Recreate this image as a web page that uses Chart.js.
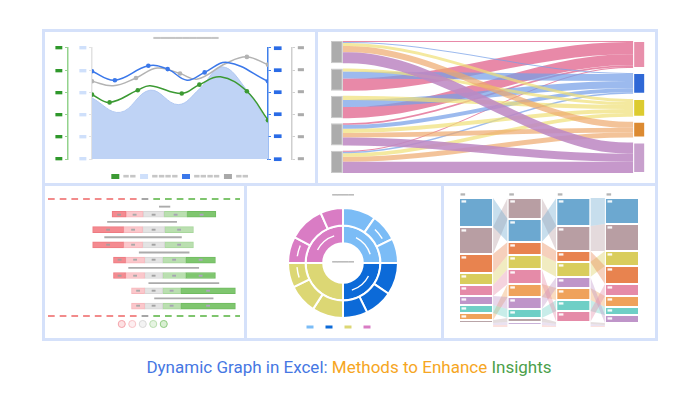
<!DOCTYPE html>
<html lang="en">
<head>
<meta charset="utf-8">
<title>Dynamic Graph in Excel</title>
<script src="https://cdn.jsdelivr.net/npm/chart.js@4.4.1/dist/chart.umd.min.js"></script>
<style>
  html, body { margin: 0; padding: 0; background: #ffffff; }
  #page { position: relative; width: 698px; height: 400px; overflow: hidden; }
  #frame { position: absolute; left: 42px; top: 29px; width: 616px; height: 312px; background: #d5e1fa; }
  .panel { position: absolute; background: #ffffff; }
  .panel canvas { display: block; }
  #caption { position: absolute; left: 0; top: 357px; width: 698px; text-align: center;
             font-family: Roboto, 'Noto Sans', sans-serif; font-size: 17px; line-height: 20px; }
</style>
</head>
<body>
<div id="page">
  <div id="frame"></div>
  <div class="panel" style="left:45px;top:32px;width:270px;height:151px"><canvas id="lineChart" width="270" height="151"></canvas></div>
  <div class="panel" style="left:318px;top:32px;width:337px;height:151px"><canvas id="sankeyChart" width="337" height="151"></canvas></div>
  <div class="panel" style="left:45px;top:186px;width:199px;height:152px"><canvas id="ganttChart" width="199" height="152"></canvas></div>
  <div class="panel" style="left:247px;top:186px;width:194px;height:152px"><canvas id="sunChart" width="194" height="152"></canvas></div>
  <div class="panel" style="left:444px;top:186px;width:211px;height:152px"><canvas id="flowChart" width="211" height="152"></canvas></div>
  <div id="caption"><span style="color:#4677e3">Dynamic Graph in Excel:</span> <span style="color:#f6a623">Methods to Enhance</span> <span style="color:#4c9f4a">Insights</span></div>
</div>
<script>
Chart.defaults.font.family = "'DejaVu Sans', sans-serif";
Chart.defaults.responsive = false;
Chart.defaults.animation = false;
Chart.defaults.plugins.tooltip.enabled = false;
Chart.defaults.plugins.legend.display = false;

// 占位文字（原图里模糊的小字）
const BAR = '\u25AC';
const LINE = '\u2501';

// ===== 左上：多轴曲线 + 面积 =====
const areaX = [0, 16, 33, 49, 61, 74, 88, 100];
const areaY = [55, 42, 62, 49, 63, 83, 62, 32];
const blueX = [0, 13, 32, 43, 54, 64, 77, 100];
const blueY = [79, 71, 84, 81, 71, 78, 87, 70];
const blueMarks = [1, 1, 1, 1, 0, 1, 0, 1];
const grayX = [0, 12, 25, 37, 50, 60, 76, 88, 100];
const grayY = [70, 66, 73, 82, 77, 72, 86, 92, 85];
const grayMarks = [1, 0, 1, 0, 1, 0, 0, 1, 1];
const greenX = [0, 10, 26, 33, 51, 61, 73, 88, 100];
const greenY = [58, 51, 62, 66, 59, 67, 74, 61, 35];
const greenMarks = [1, 1, 1, 0, 1, 1, 0, 1, 1];
const lineLegendColors = ['#3c9a33', '#cfe0fb', '#3b78ea', '#a9a9a9'];
const lineLegendText = [BAR.repeat(2), BAR.repeat(4), BAR.repeat(4), BAR.repeat(2)];

function toPoints(xs, ys) {
  return xs.map((x, i) => ({ x, y: ys[i] }));
}
function clearTicks(scale) {
  scale.ticks = [];
}

function curve(label, xs, ys, marks, color, order) {
  return {
    label, order, yAxisID: 'yG',
    data: toPoints(xs, ys),
    borderColor: color, backgroundColor: color, borderWidth: 1.5, tension: 0.4,
    pointRadius: marks.map(m => (m ? 2.3 : 0)), pointBorderWidth: 0, fill: false
  };
}

function sideAxis(position, weight, lineColor, labelColor, width, size) {
  return {
    position, weight, min: 0, max: 100,
    ticks: { stepSize: 20, padding: 2, color: labelColor, font: { size }, callback: () => BAR },
    grid: { drawOnChartArea: false, tickLength: 3, color: lineColor },
    border: { color: lineColor, width: 1.5 },
    afterFit: s => { s.width = width; }
  };
}

new Chart(document.getElementById('lineChart'), {
  type: 'line',
  data: {
    datasets: [
      curve('Green', greenX, greenY, greenMarks, '#3c9a33', 0),
      curve('Blue', blueX, blueY, blueMarks, '#3b78ea', 1),
      curve('Gray', grayX, grayY, grayMarks, '#b3b3b3', 2),
      {
        label: 'Area', order: 3, yAxisID: 'yG',
        data: toPoints(areaX, areaY),
        fill: 'origin', tension: 0.4, pointRadius: 0,
        borderWidth: 1, borderColor: '#b2c9f2', backgroundColor: '#bfd3f5'
      }
    ]
  },
  options: {
    scales: {
      x: {
        type: 'linear', min: 0, max: 100,
        ticks: { stepSize: 20, autoSkip: false, maxRotation: 0, padding: 1, color: '#cdcdcd', font: { size: 7 }, callback: () => BAR },
        grid: { display: false }, border: { display: false },
        afterFit: s => { s.height = 10; }
      },
      yG: sideAxis('left', 2, '#93d38d', '#2f982b', 23, 9),
      yL: sideAxis('left', 1, '#e2e2e2', '#cfe0fb', 24, 9),
      yB: sideAxis('right', 1, '#3f7fea', '#2a6be6', 24, 10),
      yR: sideAxis('right', 2, '#cfcfcf', '#ababab', 23, 8)
    },
    plugins: {
      title: {
        display: true, text: '\u2002\u2002' + LINE.repeat(9), color: '#c5c5c5',
        font: { size: 12 }, padding: { top: 0, bottom: 1.6 }
      },
      legend: {
        display: true, position: 'bottom', maxHeight: 14,
        labels: {
          boxWidth: 8, boxHeight: 5, padding: 4, color: '#c6c6c6', font: { size: 7 },
          generateLabels: () => lineLegendColors.map((c, i) => ({
            text: lineLegendText[i], fillStyle: c, strokeStyle: c, lineWidth: 0, hidden: false, fontColor: '#c6c6c6'
          }))
        }
      }
    }
  }
});

// ===== 右上：桑基图 =====
const sankeySources = ['S1', 'S2', 'S3', 'S4', 'S5'];
const sankeyTargets = ['Pink', 'Blue', 'Yellow', 'Orange', 'Purple'];
const sankeyTargetColors = ['#e88fab', '#2f68d6', '#dccb2f', '#dc8a31', '#c8a0cd'];
const sankeyFlowColors = ['rgba(226,108,146,0.8)', 'rgba(118,160,232,0.72)', 'rgba(240,224,118,0.7)',
  'rgba(238,170,110,0.7)', 'rgba(190,138,196,0.88)'];
// [来源, 目标, 数值]
const sankeyFlows = [
  [0, 0, 1], [0, 1, 1], [0, 2, 3], [0, 3, 6], [0, 4, 11],
  [1, 2, 3], [1, 1, 7], [1, 0, 12],
  [2, 2, 4], [2, 1, 7], [2, 0, 11],
  [3, 0, 1.5], [3, 1, 4], [3, 2, 4], [3, 3, 4.5], [3, 4, 8],
  [4, 0, 1], [4, 1, 1.5], [4, 2, 3.5], [4, 3, 5], [4, 4, 11]
];
const sankeyGap = 5;

function nodeTotals(names, side) {
  return names.map((_, i) => sankeyFlows.filter(f => f[side] === i).reduce((a, f) => a + f[2], 0));
}
function stackNodes(totals) {
  let pos = 0;
  return totals.map(t => { const s = pos; pos += t + sankeyGap; return s; });
}
const srcTotals = nodeTotals(sankeySources, 0);
const tgtTotals = nodeTotals(sankeyTargets, 1);
const srcStart = stackNodes(srcTotals);
const tgtStart = stackNodes(tgtTotals);

const sankeySets = [
  {
    type: 'bar', label: 'Sources', order: 0,
    data: sankeySources.map((_, i) => ({ x: -2, y: [srcStart[i], srcStart[i] + srcTotals[i]] })),
    backgroundColor: '#acacac', borderColor: '#c9c9c9', borderWidth: 1, borderSkipped: false,
    grouped: false, maxBarThickness: 12
  },
  {
    type: 'bar', label: 'Targets', order: 0,
    data: sankeyTargets.map((_, i) => ({ x: 102, y: [tgtStart[i], tgtStart[i] + tgtTotals[i]] })),
    backgroundColor: sankeyTargetColors, borderColor: 'rgba(255,255,255,0.5)', borderWidth: 1, borderSkipped: false,
    grouped: false, maxBarThickness: 12
  }
];
const srcCursor = srcStart.slice();
const tgtCursor = tgtStart.slice();
const ribbonEdge = (a, b) => [{ x: 0, y: a }, { x: 2, y: a }, { x: 98, y: b }, { x: 100, y: b }];
sankeyFlows.forEach(([s, t, v]) => {
  const a = srcCursor[s], b = tgtCursor[t];
  srcCursor[s] += v;
  tgtCursor[t] += v;
  const base = {
    type: 'line', order: t === 4 ? 1 : 2, borderColor: 'rgba(0,0,0,0)', borderWidth: 0,
    pointRadius: 0, pointHitRadius: 0, cubicInterpolationMode: 'monotone'
  };
  sankeySets.push(Object.assign({}, base, { data: ribbonEdge(a, b), fill: false }));
  sankeySets.push(Object.assign({}, base, { data: ribbonEdge(a + v, b + v), fill: '-1', backgroundColor: sankeyFlowColors[t] }));
});

new Chart(document.getElementById('sankeyChart'), {
  type: 'bar',
  data: { datasets: sankeySets },
  options: {
    layout: { padding: { left: 13, right: 10, top: 9, bottom: 10 } },
    scales: {
      x: { type: 'linear', min: -4, max: 104, offset: false, display: false, afterBuildTicks: clearTicks },
      y: { type: 'linear', min: 0, max: 130, reverse: true, display: false, afterBuildTicks: clearTicks }
    }
  }
});

// ===== 左下：发散条形图 =====
const ganttRed = [7.3, 16.1, 16.1, 6.3, 6.3, 0, 0];
const ganttPink = [8.9, 9.9, 9.9, 9.9, 9.9, 6.8, 6.8];
const ganttNeutral = [10.9, 11.5, 11.5, 9.4, 9.4, 9.4, 9.4];
const ganttLightGreen = [12, 15, 15, 12, 12, 9.4, 9.4];
const ganttGreen = [15, 0, 0, 15.5, 15.5, 28.5, 28.5];
const ganttRanges = [[3, 8.5], [-24, 12], [-25.5, 14.5], [-7.5, 18.5], [-13, 23.5], [-2.5, 34], [0.5, 31]];
const ganttSplit = [-8.6, -2.9];
const ganttDashColors = ['#f28b8b', '#a6a6a6', '#7fc56e'];
const ganttLegendFill = ['#fde1e3', '#fdeef0', '#f3f3f3', '#e6f4e2', '#d9efd3'];
const ganttLegendRing = ['#f4a3aa', '#f8c3c7', '#d9d9d9', '#b9ddaf', '#8fcb80'];

const ganttParts = [
  { label: 'Strongly disagree', values: ganttRed, fill: '#f48a90', edge: '#ee7a81', mark: '#a99c9d' },
  { label: 'Disagree', values: ganttPink, fill: '#fbc7cb', edge: '#f6b6bb', mark: '#a9a9a9' },
  { label: 'Neutral', values: ganttNeutral, fill: '#e3e3e3', edge: '#d6d6d6', mark: '#a3a3a3' },
  { label: 'Agree', values: ganttLightGreen, fill: '#badfb0', edge: '#a8d79c', mark: '#a7a3b3' },
  { label: 'Strongly agree', values: ganttGreen, fill: '#7fc66f', edge: '#70bb60', mark: '#b2a0c4' }
];
const ganttCursor = ganttRed.map((r, i) => -(ganttNeutral[i] / 2 + ganttPink[i] + r));
const ganttSets = ganttParts.map(p => {
  const data = [];
  p.values.forEach((v, i) => {
    if (v > 0) data.push({ y: 2 * i + 2, x: [ganttCursor[i], ganttCursor[i] + v] });
    ganttCursor[i] += v;
  });
  return {
    label: p.label, data, backgroundColor: p.fill, borderColor: p.edge, borderWidth: 1, borderSkipped: false,
    grouped: false, barPercentage: 1, categoryPercentage: 1, maxBarThickness: 6, markColor: p.mark
  };
});
ganttSets.push({
  label: 'Range', data: ganttRanges.map((r, i) => ({ y: 2 * i + 1, x: r })),
  backgroundColor: '#ababab', borderWidth: 0, grouped: false,
  barPercentage: 1, categoryPercentage: 1, maxBarThickness: 1.2
});

const ganttDecor = {
  id: 'ganttDecor',
  afterDatasetsDraw(chart) {
    const { ctx, chartArea: a, scales: { x } } = chart;
    const cut1 = x.getPixelForValue(ganttSplit[0]);
    const cut2 = x.getPixelForValue(ganttSplit[1]);
    ctx.save();
    // 上下两条虚线
    ctx.lineWidth = 2;
    [a.top, a.bottom].forEach(y => {
      for (let px = a.left; px < a.right; px += 11.7) {
        ctx.strokeStyle = px < cut1 ? ganttDashColors[0] : px < cut2 ? ganttDashColors[1] : ganttDashColors[2];
        ctx.beginPath();
        ctx.moveTo(px, y);
        ctx.lineTo(Math.min(px + 6.7, a.right), y);
        ctx.stroke();
      }
    });
    // 段内小标签
    ctx.font = "5px 'DejaVu Sans'";
    ctx.textAlign = 'center';
    ctx.textBaseline = 'middle';
    chart.data.datasets.forEach((ds, i) => {
      if (!ds.markColor) return;
      ctx.fillStyle = ds.markColor;
      chart.getDatasetMeta(i).data.forEach(bar => ctx.fillText(BAR, (bar.x + bar.base) / 2, bar.y));
    });
    ctx.restore();
  }
};

new Chart(document.getElementById('ganttChart'), {
  type: 'bar',
  data: { datasets: ganttSets },
  plugins: [ganttDecor],
  options: {
    indexAxis: 'y',
    layout: { padding: { left: 3, right: 4, top: 13, bottom: 1.5 } },
    scales: {
      x: {
        type: 'linear', min: -55, max: 45,
        ticks: { display: false }, grid: { display: false }, border: { display: false },
        afterFit: s => { s.height = 2.5; }
      },
      y: { type: 'linear', min: 0, max: 15.3, reverse: true, display: false, afterBuildTicks: clearTicks }
    },
    plugins: {
      legend: {
        display: true, position: 'bottom',
        labels: {
          usePointStyle: true, boxHeight: 5, padding: 3, font: { size: 5 },
          generateLabels: () => ganttLegendRing.map((c, i) => ({
            text: '', fillStyle: ganttLegendFill[i], strokeStyle: c, lineWidth: 1, pointStyle: 'circle', hidden: false
          }))
        }
      }
    }
  }
});

// ===== 下中：旭日图 =====
const sunColors = ['#7bbcf6', '#0c6ad8', '#dcd774', '#d97cc4'];
const sunInner = [90, 90, 90, 90];
const sunOuter = [35, 29, 26, 34, 30, 26, 33, 31, 26, 28, 38, 24];
const sunOuterGroup = [0, 0, 0, 1, 1, 1, 2, 2, 2, 3, 3, 3];
const sunMarksInner = [1, 1, 0, 1];
const sunMarksOuter = [0, 1, 0, 0, 0, 0, 0, 0, 1, 1, 0, 0];

const sunDecor = {
  id: 'sunDecor',
  afterDatasetsDraw(chart) {
    const { ctx, chartArea: a } = chart;
    ctx.save();
    ctx.strokeStyle = '#ffffff';
    ctx.lineWidth = 1.4;
    [sunMarksOuter, sunMarksInner].forEach((marks, d) => {
      chart.getDatasetMeta(d).data.forEach((arc, i) => {
        if (!marks[i]) return;
        const r = (arc.innerRadius + arc.outerRadius) / 2;
        const span = arc.endAngle - arc.startAngle;
        ctx.beginPath();
        ctx.arc(arc.x, arc.y, r, arc.startAngle + span * 0.3, arc.endAngle - span * 0.2);
        ctx.stroke();
      });
    });
    ctx.fillStyle = '#b9b9b9';
    ctx.font = "9px 'DejaVu Sans'";
    ctx.textAlign = 'center';
    ctx.textBaseline = 'middle';
    ctx.fillText(LINE.repeat(4), (a.left + a.right) / 2, (a.top + a.bottom) / 2);
    ctx.restore();
  }
};

new Chart(document.getElementById('sunChart'), {
  type: 'doughnut',
  data: {
    datasets: [
      { data: sunOuter, backgroundColor: sunOuterGroup.map(g => sunColors[g]), borderColor: '#ffffff', borderWidth: 2 },
      { data: sunInner, backgroundColor: sunColors, borderColor: '#ffffff', borderWidth: 2 }
    ]
  },
  plugins: [sunDecor],
  options: {
    radius: 55,
    cutout: '36%',
    layout: { padding: { right: 2 } },
    plugins: {
      title: {
        display: true, text: LINE.repeat(4), color: '#b9b9b9', font: { size: 9 },
        padding: { top: 4.6, bottom: 3.6 }
      },
      legend: {
        display: true, position: 'bottom', maxHeight: 17,
        labels: {
          boxWidth: 7, boxHeight: 3, padding: 3, font: { size: 6 },
          generateLabels: () => sunColors.map(c => ({ text: '\u2003', fillStyle: c, strokeStyle: c, lineWidth: 0, hidden: false }))
        }
      }
    }
  }
});

// ===== 右下：冲积图 =====
const flowColors = ['#6ca8d0', '#b89ea3', '#e8834f', '#d9cd5c', '#e58ba8', '#bf95c9', '#6fcfc6', '#efa25b',
  '#b9a5a8', '#c9b2d9', '#f4b1a8'];
const flowTints = ['rgba(108,168,208,0.38)', 'rgba(184,158,163,0.38)', 'rgba(232,131,79,0.38)', 'rgba(217,205,92,0.38)',
  'rgba(229,139,168,0.38)', 'rgba(191,149,201,0.38)', 'rgba(111,207,198,0.38)', 'rgba(239,162,91,0.38)',
  'rgba(185,165,168,0.38)', 'rgba(201,178,217,0.38)', 'rgba(244,177,168,0.38)'];
// 每个类别在 4 列中的数值
const flowValues = [
  [29, 23, 28, 26],
  [27, 21, 25, 27],
  [19, 13, 11, 18],
  [12, 14, 15, 15],
  [11, 15, 11, 12],
  [9, 12, 11, 8],
  [8, 9, 11, 8],
  [7, 13, 12, 11],
  [3, 4, 2, 2],
  [2, 3, 2, 1],
  [2, 2, 1, 1]
];
// 每列从上到下的类别顺序
const flowOrder = [
  [0, 1, 2, 3, 4, 5, 6, 7, 8, 9, 10],
  [1, 0, 2, 3, 4, 7, 5, 6, 8, 9, 10],
  [0, 1, 2, 3, 5, 7, 6, 4, 8, 9, 10],
  [0, 1, 3, 2, 4, 7, 6, 5, 8, 9, 10]
];
const flowBar = 0.7;

const flowStart = flowValues.map(() => []);
flowOrder.forEach((order, col) => {
  let pos = 0;
  order.forEach(c => { flowStart[c][col] = pos; pos += flowValues[c][col]; });
});

const flowSets = flowValues.map((vals, c) => ({
  type: 'bar', order: 0,
  data: vals.map((v, col) => ({ x: col, y: [flowStart[c][col], flowStart[c][col] + v] })),
  backgroundColor: flowColors[c], borderColor: 'rgba(255,255,255,0.7)', borderWidth: 1, borderSkipped: false,
  grouped: false, categoryPercentage: 1, barPercentage: flowBar
}));
flowValues.forEach((vals, c) => {
  for (let col = 0; col < vals.length - 1; col++) {
    const x0 = col + flowBar / 2, x1 = col + 1 - flowBar / 2;
    const a = flowStart[c][col], b = flowStart[c][col + 1];
    const base = { type: 'line', order: 1, borderColor: 'rgba(0,0,0,0)', borderWidth: 0, pointRadius: 0, pointHitRadius: 0 };
    flowSets.push(Object.assign({}, base, { data: [{ x: x0, y: a }, { x: x1, y: b }], fill: false }));
    flowSets.push(Object.assign({}, base, {
      data: [{ x: x0, y: a + vals[col] }, { x: x1, y: b + vals[col + 1] }], fill: '-1', backgroundColor: flowTints[c]
    }));
  }
});

const flowDecor = {
  id: 'flowDecor',
  afterDatasetsDraw(chart) {
    const { ctx, chartArea: a } = chart;
    ctx.save();
    ctx.font = "6px 'DejaVu Sans'";
    ctx.textAlign = 'left';
    ctx.textBaseline = 'middle';
    ctx.fillStyle = 'rgba(255,255,255,0.9)';
    chart.data.datasets.forEach((ds, i) => {
      if (ds.type !== 'bar') return;
      chart.getDatasetMeta(i).data.forEach(bar => {
        const top = Math.min(bar.y, bar.base);
        if (Math.abs(bar.base - bar.y) < 7) return;
        ctx.fillText(BAR, bar.x - bar.width / 2 + 2, top + 3.5);
      });
    });
    ctx.fillStyle = '#b5b5b5';
    chart.getDatasetMeta(0).data.forEach(bar => ctx.fillText(BAR, bar.x - bar.width / 2 + 1, a.top - 4));
    ctx.restore();
  }
};

new Chart(document.getElementById('flowChart'), {
  type: 'bar',
  data: { datasets: flowSets },
  plugins: [flowDecor],
  options: {
    layout: { padding: { left: 15, right: 16, top: 12, bottom: 11 } },
    scales: {
      x: { type: 'linear', min: -flowBar / 2, max: 3 + flowBar / 2, offset: false, display: false, afterBuildTicks: clearTicks },
      y: { type: 'linear', min: 0, max: 129, reverse: true, display: false, afterBuildTicks: clearTicks }
    }
  }
});
</script>
</body>
</html>
